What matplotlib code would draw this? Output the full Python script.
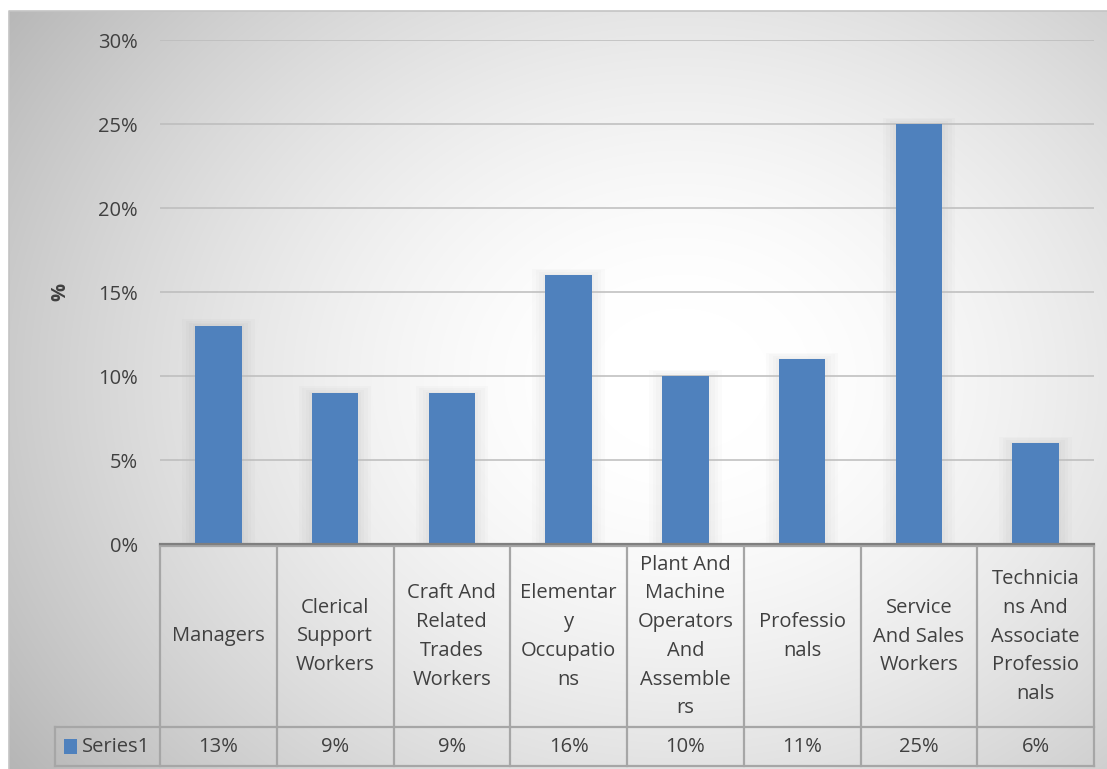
import numpy as np
import matplotlib
matplotlib.use("Agg")
import matplotlib.pyplot as plt
from matplotlib.patches import Rectangle
from matplotlib.lines import Line2D

categories = [
    "Managers",
    "Clerical\nSupport\nWorkers",
    "Craft And\nRelated\nTrades\nWorkers",
    "Elementar\ny\nOccupatio\nns",
    "Plant And\nMachine\nOperators\nAnd\nAssemble\nrs",
    "Professio\nnals",
    "Service\nAnd Sales\nWorkers",
    "Technicia\nns And\nAssociate\nProfessio\nnals",
]
values = [13, 9, 9, 16, 10, 11, 25, 6]
value_labels = ["13%", "9%", "9%", "16%", "10%", "11%", "25%", "6%"]
series_name = "Series1"
y_ticks = [0, 5, 10, 15, 20, 25, 30]

BAR = "#4F81BD"
TEXT = "#404040"
GRID = "#bcbcbc"
TABLE = "#a6a6a6"
FS = 14.5

plt.rcParams["font.family"] = ["Open Sans", "DejaVu Sans"]

W, H = 1107, 769
fig = plt.figure(figsize=(W / 100, H / 100), dpi=100)
fig.patch.set_facecolor("white")

# radial gradient background of the chart area
bg = fig.add_axes([0, 0, 1, 1], zorder=-10)
yy, xx = np.mgrid[0:H, 0:W]
r = np.sqrt(((xx - 680) / 740.0) ** 2 + ((yy - 380) / 600.0) ** 2)
r = np.clip(r - 0.12, 0, None) / 0.88
shade = 1.0 - 0.24 * np.clip(r, 0, 1.2) ** 1.5
img = np.dstack([shade] * 3)
img[:11, :, :] = 1.0
img[:, :9, :] = 1.0
bg.imshow(img, extent=(0, W, H, 0), aspect="auto", interpolation="bilinear")
bg.plot([9, 9, W], [H, 11, 11], color="#c4c4c4", lw=1.2)
bg.set_xlim(0, W)
bg.set_ylim(H, 0)
bg.axis("off")

# plot area in pixel terms
left, right, top, bottom = 160, 1094, 40, 544
ax = fig.add_axes([left / W, 1 - bottom / H, (right - left) / W, (bottom - top) / H])
ax.patch.set_alpha(0)

x = np.arange(len(values))
ax.set_xlim(-0.5, len(values) - 0.5)
ax.set_ylim(0, 30)

# soft shadow behind each bar
for xi, v in zip(x, values):
    for k in range(4):
        pad = 0.02 + k * 0.03
        ax.add_patch(Rectangle((xi - 0.2 - pad, 0), 0.4 + 2 * pad, v + pad * 3.5,
                               facecolor="black", alpha=0.015, lw=0, zorder=1))
ax.bar(x, values, width=0.4, color=BAR, zorder=3)

ax.set_yticks(y_ticks)
ax.set_yticklabels([f"{t}%" for t in y_ticks], fontsize=FS, color=TEXT)
ax.tick_params(axis="y", length=0, pad=16)
ax.tick_params(axis="x", length=0, labelbottom=False)
ax.grid(axis="y", color=GRID, lw=1.1, zorder=0)
for s in ["top", "right", "left"]:
    ax.spines[s].set_visible(False)
ax.spines["bottom"].set_color("#7f7f7f")
ax.spines["bottom"].set_linewidth(1.6)
ax.spines["bottom"].set_zorder(4)
ax.set_ylabel("%", fontsize=FS, color=TEXT, fontweight="bold", labelpad=20)

# data table below the axis
tr = ax.get_xaxis_transform()
px = (right - left) / len(values)
y_top = (bottom - 546) / (bottom - top)
y_mid = (bottom - 727) / (bottom - top)
y_bot = (bottom - 766) / (bottom - top)
x_lab = -0.5 - (left - 55) / px

def hline(x0, x1, y):
    ax.add_line(Line2D([x0, x1], [y, y], transform=tr, color=TABLE, lw=1.6, clip_on=False))

def vline(xv, y0, y1):
    ax.add_line(Line2D([xv, xv], [y0, y1], transform=tr, color=TABLE, lw=1.6, clip_on=False))

hline(-0.5, len(values) - 0.5, y_top)
hline(x_lab, len(values) - 0.5, y_mid)
hline(x_lab, len(values) - 0.5, y_bot)
for b in range(len(values) + 1):
    vline(b - 0.5, y_top, y_bot)
vline(x_lab, y_mid, y_bot)

for xi, cat, lab in zip(x, categories, value_labels):
    ax.text(xi, (y_top + y_mid) / 2, cat, transform=tr, ha="center", va="center",
            fontsize=FS, color=TEXT, linespacing=1.58)
    ax.text(xi, (y_mid + y_bot) / 2, lab, transform=tr, ha="center", va="center",
            fontsize=FS, color=TEXT)

key_x = x_lab + 9 / px
ax.add_patch(Rectangle((key_x, y_bot + 0.32 * (y_mid - y_bot)), 13 / px, 0.36 * (y_mid - y_bot),
                       transform=tr, facecolor=BAR, lw=0, clip_on=False))
ax.text(key_x + 18 / px, (y_mid + y_bot) / 2, series_name, transform=tr, ha="left", va="center",
        fontsize=FS, color=TEXT)

fig.savefig("out.png", dpi=100)
